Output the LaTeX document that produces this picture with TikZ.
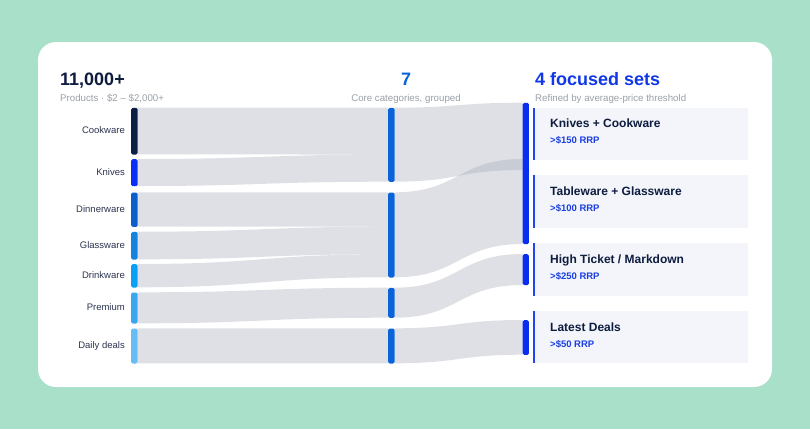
\documentclass[tikz,border=0pt]{standalone}
\usepackage{fontspec}
\setmainfont{Liberation Sans}
\definecolor{mint}{HTML}{A8E0CA}
\definecolor{navy}{HTML}{0E1C3F}
\definecolor{labelc}{HTML}{2B3350}
\definecolor{graytxt}{HTML}{9AA0A8}
\definecolor{midblue}{HTML}{0A64D8}
\definecolor{royal}{HTML}{0A2EF0}
\definecolor{headblue}{HTML}{1038E8}
\definecolor{subblue}{HTML}{1A3EE0}
\definecolor{cardfill}{HTML}{F3F5FA}
\definecolor{flowbase}{RGB}{161,169,184}
\definecolor{cCook}{HTML}{0B1E45}
\definecolor{cKniv}{HTML}{0A2EF5}
\definecolor{cDinn}{HTML}{0A5FCC}
\definecolor{cGlas}{HTML}{1483E0}
\definecolor{cDrin}{HTML}{0AA0F5}
\definecolor{cPrem}{HTML}{3AA8F0}
\definecolor{cDaily}{HTML}{66BDF5}
\tikzset{
  flowc/.style={fill=flowbase,fill opacity=0.35},
  barnode/.style={fill=#1,draw=none,inner sep=0pt,minimum width=6.5pt,anchor=north west,rounded corners=1.5pt},
  catlabel/.style={anchor=mid east,inner sep=0pt,text=labelc,font=\fontsize{9.5}{11}\selectfont},
  bigh/.style={inner sep=0pt,font=\fontsize{18}{20}\selectfont\bfseries},
  subh/.style={inner sep=0pt,text=graytxt,font=\fontsize{9.7}{11}\selectfont},
  cardtitle/.style={anchor=base west,inner sep=0pt,text=navy,font=\fontsize{12}{14}\selectfont\bfseries},
  cardsub/.style={anchor=base west,inner sep=0pt,text=subblue,font=\fontsize{9.5}{11}\selectfont\bfseries},
}
\newcommand\sflow[6]{%
  \pgfmathsetmacro\xmid{(#1+#4)/2}%
  \fill[flowc] (#1,#2) .. controls (\xmid,#2) and (\xmid,#5) .. (#4,#5) -- (#4,#6) .. controls (\xmid,#6) and (\xmid,#3) .. (#1,#3) -- cycle;}
\newcommand\scard[5]{% name, top, bottom, title, sub
  \fill[cardfill] (535.3,#2) rectangle (748,#3);
  \fill[royal!90!white] (533.3,#2) rectangle (535.3,#3);
  \node[cardtitle] (#1t) at (550,#2+20.2) {#4};
  \node[cardsub] (#1s) at (550,#2+36.2) {#5};}
\begin{document}
\begin{tikzpicture}[x=1pt,y=-1pt]
\useasboundingbox (0,0) rectangle (810,429);
\fill[mint] (0,0) rectangle (810,429);
\fill[white,rounded corners=18pt] (38,42) rectangle (772,387);

% headers
\node[bigh,text=navy,anchor=base west] (h1) at (60,85.5) {11,000+};
\node[subh,anchor=base west] (s1) at (60,101) {Products · \$2 – \$2,000+};
\node[bigh,text=midblue,anchor=base] (h2) at (406,85.5) {7};
\node[subh,anchor=base] (s2) at (406,101) {Core categories, grouped};
\node[bigh,text=headblue,anchor=base west] (h3) at (535,85.5) {4 focused sets};
\node[subh,anchor=base west] (s3) at (535,101) {Refined by average-price threshold};

% flows left -> middle
\sflow{137.5}{107.7}{154.3}{388}{107.7}{154.6}
\sflow{137.5}{159}{186}{388}{154.6}{181.7}
\sflow{137.5}{192.3}{226.7}{388}{192.3}{226.7}
\sflow{137.5}{231.7}{259.3}{388}{226.7}{254.3}
\sflow{137.5}{264}{287.3}{388}{254.3}{277.3}
\sflow{137.5}{292.3}{323.3}{388}{287.7}{317.7}
\sflow{137.5}{328.3}{363.3}{388}{328.3}{363.3}
% flows middle -> right
\sflow{394.5}{107.7}{181.7}{522.5}{102.7}{170}
\sflow{394.5}{192.3}{277.3}{522.5}{159}{244}
\sflow{394.5}{287.7}{317.7}{522.5}{254}{285}
\sflow{394.5}{328.3}{363.3}{522.5}{320}{354.7}

% left bars
\node[barnode=cCook,minimum height=46.6pt] (cook) at (131,107.7) {};
\node[barnode=cKniv,minimum height=27pt] (kniv) at (131,159) {};
\node[barnode=cDinn,minimum height=34.4pt] (dinn) at (131,192.3) {};
\node[barnode=cGlas,minimum height=27.6pt] (glas) at (131,231.7) {};
\node[barnode=cDrin,minimum height=23.3pt] (drin) at (131,264) {};
\node[barnode=cPrem,minimum height=31pt] (prem) at (131,292.3) {};
\node[barnode=cDaily,minimum height=35pt] (daily) at (131,328.3) {};
% labels
\node[catlabel] (lcook) at (125,131) {Cookware};
\node[catlabel] (lkniv) at (125,172.5) {Knives};
\node[catlabel] (ldinn) at (125,209.5) {Dinnerware};
\node[catlabel] (lglas) at (125,245.5) {Glassware};
\node[catlabel] (ldrin) at (125,275.6) {Drinkware};
\node[catlabel] (lprem) at (125,307.8) {Premium};
\node[catlabel] (ldaily) at (125,345.8) {Daily deals};

% middle bars
\node[barnode=midblue,minimum height=74pt] (m1) at (388,107.7) {};
\node[barnode=midblue,minimum height=85pt] (m2) at (388,192.3) {};
\node[barnode=midblue,minimum height=30pt] (m3) at (388,287.7) {};
\node[barnode=midblue,minimum height=35pt] (m4) at (388,328.3) {};

% right bars
\node[barnode=royal,minimum width=6.2pt,minimum height=141.3pt] (r1) at (522.5,102.7) {};
\node[barnode=royal,minimum width=6.2pt,minimum height=31pt] (r2) at (522.5,254) {};
\node[barnode=royal,minimum width=6.2pt,minimum height=34.7pt] (r3) at (522.5,320) {};

% cards
\scard{c1}{107.7}{160}{Knives + Cookware}{>\$150 RRP}
\scard{c2}{175}{227.7}{Tableware + Glassware}{>\$100 RRP}
\scard{c3}{243.3}{295.7}{High Ticket / Markdown}{>\$250 RRP}
\scard{c4}{311}{363.3}{Latest Deals}{>\$50 RRP}
\end{tikzpicture}
\end{document}
